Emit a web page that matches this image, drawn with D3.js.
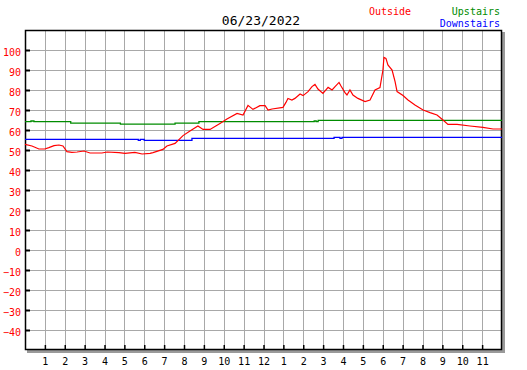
<!DOCTYPE html>
<html>
<head>
<meta charset="utf-8">
<script src="https://cdn.jsdelivr.net/npm/d3@7/dist/d3.min.js"></script>
<style>
  html, body { margin: 0; padding: 0; background: #fff; }
  svg { display: block; }
  text { font-family: "DejaVu Sans Mono", monospace; }
</style>
</head>
<body>
<svg id="chart" width="527" height="370"></svg>
<script>
// ---- data ----
const title = "06/23/2022";
const hourTicks = [1,2,3,4,5,6,7,8,9,10,11,12,13,14,15,16,17,18,19,20,21,22,23];
const hourLabels = ["1","2","3","4","5","6","7","8","9","10","11","12","1","2","3","4","5","6","7","8","9","10","11"];
const tempTicks = [-40,-30,-20,-10,0,10,20,30,40,50,60,70,80,90,100];

const outsideHours = [0,0.35,0.7,1.0,1.2,1.46,1.71,1.91,2.11,2.36,2.62,2.97,3.27,3.87,4.13,4.73,5.03,5.53,5.89,6.29,6.44,6.94,7.14,7.55,7.95,8.3,8.7,8.96,9.31,9.81,10.16,10.67,10.97,11.22,11.47,11.82,12.08,12.23,12.43,12.98,13.13,13.23,13.43,13.58,13.84,13.99,14.24,14.44,14.59,14.74,14.99,15.25,15.45,15.6,15.8,15.9,16.1,16.2,16.35,16.5,16.75,17.11,17.36,17.61,17.86,18.01,18.06,18.16,18.26,18.47,18.62,18.72,19.02,19.27,19.62,20.03,20.38,20.73,21.03,21.28,21.74,22.39,23.04,23.55,24];
const outsideTemps = [52.8,52,50.5,50.5,51.2,52.2,52.5,52,49.2,48.8,49,49.5,48.5,48.5,49,48.7,48.3,48.8,48,48.3,48.7,50.3,52,53.3,57.2,59.5,62,60.3,60.3,63.3,65.5,68.3,67.5,72.3,70.3,72.2,72.2,70,70.5,71.3,73.8,75.8,75,75.8,78,77.2,79.2,81.7,82.8,80.5,78.3,81.3,80,81.7,83.8,82,78.7,77.5,80,77.5,75.8,74.2,75,80,81.2,90,96.3,95.8,92.5,90,84.2,79.2,77.2,75,72.5,70,68.7,67.5,65,62.8,62.8,62,61.3,60.5,60.5];

const upstairsHours = [0,0.3,0.45,2.3,4.8,7.55,8.75,14.55,14.65,14.75,24];
const upstairsTemps = [64.2,64.5,64.2,63.4,62.9,63.4,64.2,64.5,64.2,64.8,64.8];

const downstairsHours = [0,5.7,5.8,6.0,8.4,15.55,15.85,15.95,24];
const downstairsTemps = [55.3,54.8,55.3,54.8,55.8,56.3,55.8,56.3,56.3];

const legendItems = ["Outside","Upstairs","Downstairs"];
const legendColors = ["#ff0000","#008c00","#0000ff"];

// ---- chart ----
const svg = d3.select("#chart");
const x = d3.scaleLinear().domain([0,24]).range([25,502]);
const y = d3.scaleLinear().domain([-50,110]).range([350,30]);

// shadow
svg.append("rect").attr("x", x(0)+2).attr("y", y(110)+2)
  .attr("width", x(24)-x(0)+1).attr("height", y(-50)-y(110)+1)
  .attr("fill", "#9a9a9a");
svg.append("rect").attr("x", x(0)).attr("y", y(110))
  .attr("width", x(24)-x(0)).attr("height", y(-50)-y(110))
  .attr("fill", "#fff");

// grid
const grid = svg.append("g").attr("stroke", "#a8a8a8").attr("stroke-width", 1).attr("shape-rendering", "crispEdges");
grid.selectAll("line.v").data(hourTicks).join("line")
  .attr("x1", d => Math.round(x(d))+0.5).attr("x2", d => Math.round(x(d))+0.5)
  .attr("y1", y(110)).attr("y2", y(-50));
grid.selectAll("line.h").data(tempTicks).join("line")
  .attr("y1", d => Math.round(y(d))+0.5).attr("y2", d => Math.round(y(d))+0.5)
  .attr("x1", x(0)).attr("x2", x(24));

// axes
const yAxis = d3.axisLeft(y).tickValues(tempTicks).tickSizeInner(-5).tickSizeOuter(0).tickPadding(4).tickFormat(d3.format("d"));
const gy = svg.append("g").attr("transform", `translate(${x(0)},0)`).call(yAxis);
gy.select(".domain").remove();
gy.selectAll("line").attr("stroke", "#000").attr("stroke-width", 2);
gy.selectAll("text").attr("fill", "#ff0000").attr("font-size", 10).attr("dy", "0.5em")
  .attr("font-family", "DejaVu Sans Mono, monospace");

const xAxis = d3.axisBottom(x).tickValues(hourTicks).tickSizeInner(-5).tickSizeOuter(0).tickPadding(8)
  .tickFormat((d,i) => hourLabels[i]);
const gx = svg.append("g").attr("transform", `translate(0,${y(-50)})`).call(xAxis);
gx.select(".domain").remove();
gx.selectAll("line").attr("stroke", "#000").attr("stroke-width", 1.5);
gx.selectAll("text").attr("fill", "#000").attr("font-size", 10)
  .attr("font-family", "DejaVu Sans Mono, monospace");

// border
svg.append("rect").attr("x", x(0)+0.5).attr("y", y(110)+0.5)
  .attr("width", x(24)-x(0)-1).attr("height", y(-50)-y(110)-1)
  .attr("fill", "none").attr("stroke", "#000").attr("stroke-width", 1.5);

// lines
const mk = (hs, vs) => hs.map((h,i) => [h, vs[i]]);
const lineLin = d3.line().x(d => x(d[0])).y(d => y(d[1]));
const lineStep = d3.line().x(d => x(d[0])).y(d => y(d[1])).curve(d3.curveStepAfter);

svg.append("path").datum(mk(upstairsHours, upstairsTemps)).attr("d", lineStep)
  .attr("fill", "none").attr("stroke", legendColors[1]).attr("stroke-width", 1.3);
svg.append("path").datum(mk(downstairsHours, downstairsTemps)).attr("d", lineStep)
  .attr("fill", "none").attr("stroke", legendColors[2]).attr("stroke-width", 1.3);
svg.append("path").datum(mk(outsideHours, outsideTemps)).attr("d", lineLin)
  .attr("fill", "none").attr("stroke", legendColors[0]).attr("stroke-width", 1.2);

// title
svg.append("text").attr("x", 261).attr("y", 25).attr("text-anchor", "middle")
  .attr("font-size", 13).attr("fill", "#000").text(title);

// legend
svg.append("text").attr("x", 369).attr("y", 15).attr("font-size", 10)
  .attr("fill", legendColors[0]).text(legendItems[0]);
svg.append("text").attr("x", 500).attr("y", 15).attr("text-anchor", "end").attr("font-size", 10)
  .attr("fill", legendColors[1]).text(legendItems[1]);
svg.append("text").attr("x", 500).attr("y", 26.5).attr("text-anchor", "end").attr("font-size", 10)
  .attr("fill", legendColors[2]).text(legendItems[2]);
</script>
</body>
</html>
